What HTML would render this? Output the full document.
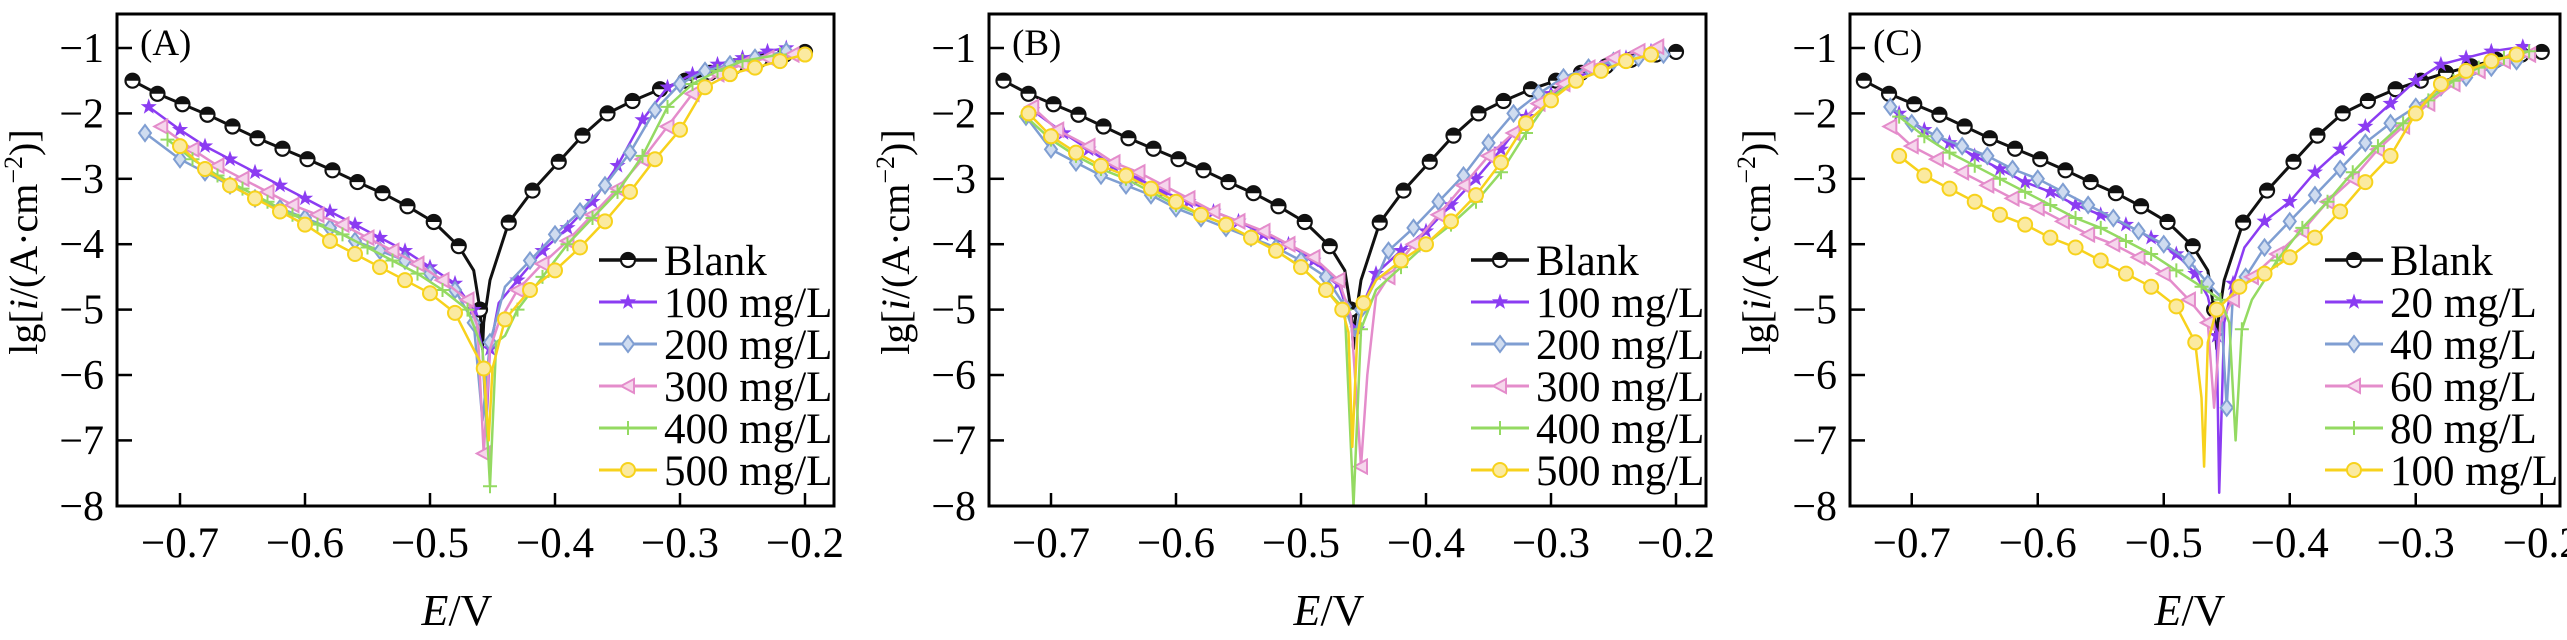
<!DOCTYPE html>
<html><head><meta charset="utf-8">
<style>
html,body{margin:0;padding:0;background:#fff;}
svg{display:block;font-family:"Liberation Serif",serif;}
</style></head>
<body>
<svg id="chart" width="2567" height="640" viewBox="0 0 2567 640" xmlns="http://www.w3.org/2000/svg"></svg>
<script>
// ---- data ----
const xTicks = [-0.7, -0.6, -0.5, -0.4, -0.3, -0.2];
const yTicks = [-1, -2, -3, -4, -5, -6, -7, -8];
const panelLabels = ["(A)", "(B)", "(C)"];
const legendAB = ["Blank", "100 mg/L", "200 mg/L", "300 mg/L", "400 mg/L", "500 mg/L"];
const legendC = ["Blank", "20 mg/L", "40 mg/L", "60 mg/L", "80 mg/L", "100 mg/L"];

const blankE = [-0.738,-0.718,-0.698,-0.678,-0.658,-0.638,-0.618,-0.598,-0.578,-0.558,-0.538,-0.518,-0.497,-0.477,-0.465,-0.46,-0.458,-0.457,-0.452,-0.437,-0.418,-0.397,-0.378,-0.358,-0.338,-0.316,-0.296,-0.276,-0.256,-0.236,-0.216,-0.2];
const blankI = [-1.5,-1.7,-1.86,-2.02,-2.2,-2.38,-2.54,-2.7,-2.87,-3.05,-3.22,-3.42,-3.66,-4.03,-4.4,-5.0,-5.6,-5.2,-4.55,-3.67,-3.18,-2.74,-2.34,-2.0,-1.81,-1.63,-1.5,-1.38,-1.28,-1.18,-1.1,-1.06];

// Panel A
const a100E = [-0.725,-0.70,-0.68,-0.66,-0.64,-0.62,-0.60,-0.58,-0.56,-0.54,-0.52,-0.50,-0.48,-0.465,-0.458,-0.455,-0.452,-0.445,-0.43,-0.41,-0.39,-0.37,-0.35,-0.33,-0.31,-0.29,-0.27,-0.25,-0.23,-0.215];
const a100I = [-1.9,-2.25,-2.5,-2.7,-2.9,-3.1,-3.3,-3.5,-3.7,-3.9,-4.1,-4.35,-4.6,-5.0,-5.6,-6.8,-5.6,-4.9,-4.55,-4.1,-3.75,-3.35,-2.8,-2.1,-1.6,-1.4,-1.25,-1.15,-1.05,-1.0];
const a200E = [-0.728,-0.70,-0.68,-0.66,-0.64,-0.62,-0.60,-0.58,-0.56,-0.54,-0.52,-0.50,-0.48,-0.465,-0.458,-0.452,-0.44,-0.42,-0.40,-0.38,-0.36,-0.34,-0.32,-0.30,-0.28,-0.26,-0.24,-0.215];
const a200I = [-2.3,-2.7,-2.9,-3.1,-3.3,-3.45,-3.6,-3.75,-3.95,-4.1,-4.25,-4.45,-4.7,-5.2,-6.7,-5.5,-4.65,-4.25,-3.85,-3.5,-3.1,-2.6,-1.95,-1.55,-1.35,-1.25,-1.15,-1.05];
const a300E = [-0.715,-0.69,-0.67,-0.65,-0.63,-0.61,-0.59,-0.57,-0.55,-0.53,-0.51,-0.49,-0.47,-0.462,-0.457,-0.452,-0.445,-0.43,-0.41,-0.39,-0.37,-0.35,-0.33,-0.31,-0.29,-0.27,-0.25,-0.23,-0.21];
const a300I = [-2.2,-2.55,-2.8,-3.0,-3.2,-3.4,-3.55,-3.7,-3.9,-4.1,-4.3,-4.55,-4.85,-5.25,-7.2,-5.6,-5.2,-4.7,-4.3,-3.95,-3.55,-3.15,-2.7,-2.2,-1.7,-1.4,-1.25,-1.15,-1.1];
const a400E = [-0.71,-0.69,-0.67,-0.65,-0.63,-0.61,-0.59,-0.57,-0.55,-0.53,-0.51,-0.49,-0.47,-0.458,-0.452,-0.447,-0.44,-0.43,-0.41,-0.39,-0.37,-0.35,-0.33,-0.31,-0.29,-0.27,-0.25,-0.22];
const a400I = [-2.4,-2.7,-2.95,-3.15,-3.35,-3.55,-3.7,-3.85,-4.05,-4.25,-4.45,-4.7,-5.0,-5.6,-7.7,-5.5,-5.4,-5.0,-4.5,-4.0,-3.6,-3.2,-2.65,-1.9,-1.55,-1.35,-1.2,-1.1];
const a500E = [-0.70,-0.68,-0.66,-0.64,-0.62,-0.60,-0.58,-0.56,-0.54,-0.52,-0.50,-0.48,-0.468,-0.457,-0.453,-0.45,-0.44,-0.42,-0.40,-0.38,-0.36,-0.34,-0.32,-0.30,-0.28,-0.26,-0.24,-0.22,-0.20];
const a500I = [-2.5,-2.85,-3.1,-3.3,-3.5,-3.7,-3.95,-4.15,-4.35,-4.55,-4.75,-5.05,-5.5,-5.9,-7.0,-5.9,-5.15,-4.7,-4.4,-4.05,-3.65,-3.2,-2.7,-2.25,-1.6,-1.4,-1.3,-1.2,-1.1];

// Panel B
const b100E = [-0.715,-0.69,-0.67,-0.65,-0.63,-0.61,-0.59,-0.57,-0.55,-0.53,-0.51,-0.49,-0.47,-0.46,-0.455,-0.45,-0.44,-0.42,-0.40,-0.38,-0.36,-0.34,-0.32,-0.30,-0.28,-0.26,-0.24,-0.22];
const b100I = [-1.95,-2.3,-2.55,-2.8,-3.0,-3.2,-3.35,-3.5,-3.65,-3.85,-4.0,-4.25,-4.6,-5.2,-5.3,-4.9,-4.45,-4.1,-3.8,-3.4,-3.0,-2.55,-2.05,-1.7,-1.45,-1.3,-1.15,-1.05];
const b200E = [-0.72,-0.70,-0.68,-0.66,-0.64,-0.62,-0.60,-0.58,-0.56,-0.54,-0.52,-0.50,-0.48,-0.465,-0.457,-0.452,-0.44,-0.43,-0.41,-0.39,-0.37,-0.35,-0.33,-0.31,-0.29,-0.27,-0.25,-0.23,-0.21];
const b200I = [-2.05,-2.55,-2.75,-2.95,-3.1,-3.25,-3.45,-3.6,-3.75,-3.9,-4.05,-4.25,-4.5,-4.95,-5.4,-5.0,-4.55,-4.1,-3.75,-3.35,-2.95,-2.45,-2.0,-1.7,-1.45,-1.3,-1.2,-1.15,-1.1];
const b300E = [-0.715,-0.695,-0.67,-0.65,-0.63,-0.61,-0.59,-0.57,-0.55,-0.53,-0.51,-0.49,-0.47,-0.46,-0.452,-0.447,-0.44,-0.43,-0.41,-0.39,-0.37,-0.35,-0.33,-0.31,-0.29,-0.27,-0.25,-0.23,-0.215];
const b300I = [-1.9,-2.25,-2.5,-2.75,-2.9,-3.1,-3.3,-3.5,-3.65,-3.8,-4.0,-4.2,-4.55,-5.1,-7.4,-6.0,-4.8,-4.5,-4.0,-3.55,-3.1,-2.65,-2.3,-1.85,-1.55,-1.3,-1.15,-1.05,-0.98];
const b400E = [-0.72,-0.70,-0.68,-0.66,-0.64,-0.62,-0.60,-0.58,-0.56,-0.54,-0.52,-0.50,-0.48,-0.465,-0.458,-0.452,-0.44,-0.42,-0.40,-0.38,-0.36,-0.34,-0.32,-0.30,-0.28,-0.26,-0.24,-0.22];
const b400I = [-2.05,-2.4,-2.65,-2.85,-3.0,-3.2,-3.4,-3.55,-3.7,-3.9,-4.1,-4.35,-4.7,-5.0,-8.0,-5.3,-4.7,-4.35,-4.0,-3.7,-3.35,-2.9,-2.3,-1.75,-1.5,-1.35,-1.2,-1.1];
const b500E = [-0.718,-0.70,-0.68,-0.66,-0.64,-0.62,-0.60,-0.58,-0.56,-0.54,-0.52,-0.50,-0.48,-0.467,-0.462,-0.459,-0.455,-0.45,-0.44,-0.42,-0.40,-0.38,-0.36,-0.34,-0.32,-0.30,-0.28,-0.26,-0.24,-0.22];
const b500I = [-2.0,-2.35,-2.6,-2.8,-2.95,-3.15,-3.35,-3.55,-3.7,-3.9,-4.1,-4.35,-4.7,-5.0,-5.35,-7.1,-5.4,-4.9,-4.55,-4.25,-4.0,-3.65,-3.25,-2.75,-2.15,-1.8,-1.5,-1.35,-1.2,-1.1];

// Panel C
const c20E = [-0.71,-0.69,-0.67,-0.65,-0.63,-0.61,-0.59,-0.57,-0.55,-0.53,-0.51,-0.49,-0.475,-0.465,-0.458,-0.456,-0.452,-0.445,-0.436,-0.42,-0.40,-0.38,-0.36,-0.34,-0.32,-0.30,-0.28,-0.26,-0.24,-0.215];
const c20I = [-2.0,-2.25,-2.45,-2.65,-2.85,-3.05,-3.2,-3.4,-3.55,-3.7,-3.9,-4.15,-4.45,-4.8,-5.4,-7.8,-5.2,-4.6,-4.05,-3.65,-3.35,-2.9,-2.55,-2.2,-1.85,-1.5,-1.25,-1.15,-1.05,-0.98];
const c40E = [-0.717,-0.70,-0.68,-0.66,-0.64,-0.62,-0.60,-0.58,-0.56,-0.54,-0.52,-0.50,-0.48,-0.465,-0.455,-0.45,-0.445,-0.435,-0.42,-0.40,-0.38,-0.36,-0.34,-0.32,-0.30,-0.28,-0.26,-0.24,-0.22,-0.21];
const c40I = [-1.9,-2.15,-2.35,-2.5,-2.65,-2.85,-3.0,-3.2,-3.4,-3.6,-3.8,-4.0,-4.25,-4.6,-4.8,-6.5,-4.75,-4.5,-4.05,-3.65,-3.25,-2.85,-2.45,-2.15,-1.9,-1.6,-1.45,-1.3,-1.2,-1.1];
const c60E = [-0.717,-0.70,-0.68,-0.66,-0.64,-0.62,-0.60,-0.58,-0.56,-0.54,-0.52,-0.50,-0.48,-0.465,-0.46,-0.455,-0.445,-0.43,-0.41,-0.39,-0.37,-0.35,-0.33,-0.31,-0.29,-0.27,-0.25,-0.23,-0.21];
const c60I = [-2.2,-2.5,-2.7,-2.9,-3.1,-3.3,-3.45,-3.65,-3.85,-4.0,-4.2,-4.45,-4.85,-5.2,-6.5,-5.2,-4.85,-4.5,-4.15,-3.8,-3.35,-3.0,-2.55,-2.2,-1.85,-1.55,-1.35,-1.2,-1.1];
const c80E = [-0.71,-0.69,-0.67,-0.65,-0.63,-0.61,-0.59,-0.57,-0.55,-0.53,-0.51,-0.49,-0.47,-0.455,-0.448,-0.443,-0.438,-0.43,-0.41,-0.39,-0.37,-0.35,-0.33,-0.31,-0.29,-0.27,-0.25,-0.23,-0.21];
const c80I = [-2.05,-2.35,-2.6,-2.8,-3.0,-3.2,-3.4,-3.6,-3.75,-3.95,-4.15,-4.4,-4.65,-4.85,-5.2,-7.0,-5.3,-4.85,-4.25,-3.75,-3.35,-2.9,-2.5,-2.15,-1.8,-1.5,-1.3,-1.15,-1.05];
const c100E = [-0.71,-0.69,-0.67,-0.65,-0.63,-0.61,-0.59,-0.57,-0.55,-0.53,-0.51,-0.49,-0.475,-0.47,-0.468,-0.465,-0.458,-0.45,-0.44,-0.42,-0.40,-0.38,-0.36,-0.34,-0.32,-0.30,-0.28,-0.26,-0.24,-0.22];
const c100I = [-2.65,-2.95,-3.15,-3.35,-3.55,-3.7,-3.9,-4.05,-4.25,-4.45,-4.65,-4.95,-5.5,-6.35,-7.4,-5.5,-5.0,-4.85,-4.65,-4.45,-4.2,-3.9,-3.5,-3.05,-2.65,-2.0,-1.55,-1.35,-1.2,-1.1];

const colors = ["#111111", "#8b3cf2", "#7f9ed2", "#e48ccb", "#94da62", "#f7d21c"];
const markers = ["blank", "star", "diamond", "tri", "plus", "circle"];

// ---- drawing ----
const NS = "http://www.w3.org/2000/svg";
const svg = document.getElementById("chart");
function mk(tag, attrs, parent) {
  const e = document.createElementNS(NS, tag);
  for (const k in attrs) e.setAttribute(k, attrs[k]);
  (parent || svg).appendChild(e);
  return e;
}
const Y0 = -0.48, YS = 65.4, TOP = 14, H = 492;

function drawMarker(g, type, x, y, col) {
  let m;
  if (type === "blank") {
    m = mk("g", {}, g);
    mk("circle", {cx: x, cy: y, r: 7, fill: "#fff", stroke: col, "stroke-width": 2.2}, m);
    mk("path", {d: `M${x-7},${y} A7,7 0 0 1 ${x+7},${y} Z`, fill: col}, m);
  } else if (type === "star") {
    let d = "";
    for (let k = 0; k < 10; k++) {
      const r = k % 2 ? 3.4 : 8.5, a = -Math.PI / 2 + k * Math.PI / 5;
      d += (k ? "L" : "M") + (x + r * Math.cos(a)).toFixed(1) + "," + (y + r * Math.sin(a)).toFixed(1);
    }
    m = mk("path", {d: d + "Z", fill: col}, g);
  } else if (type === "diamond") {
    m = mk("path", {d: `M${x},${y-8}L${x+6},${y}L${x},${y+8}L${x-6},${y}Z`, fill: "#cfdcf0", stroke: col, "stroke-width": 2}, g);
  } else if (type === "tri") {
    m = mk("path", {d: `M${x-7},${y}L${x+6},${y-7}L${x+6},${y+7}Z`, fill: "#f6d6ec", stroke: col, "stroke-width": 2}, g);
  } else if (type === "plus") {
    m = mk("path", {d: `M${x-7},${y}H${x+7}M${x},${y-7}V${y+7}`, stroke: col, "stroke-width": 2, fill: "none"}, g);
  } else {
    m = mk("circle", {cx: x, cy: y, r: 7, fill: "#fbeaa0", stroke: col, "stroke-width": 2}, g);
  }
  
  
}

function drawPanel(p, left, W, X0, XS, series, legend) {
  const g = mk("g", {});
  
  
  const sx = e => left + (e - X0) * XS;
  const sy = v => TOP + (Y0 - v) * YS;
  const clipId = "clip" + p;
  const cp = mk("clipPath", {id: clipId}, g);
  mk("rect", {x: left, y: TOP, width: W, height: H}, cp);
  series.forEach((s, i) => {
    const sg = mk("g", {"clip-path": `url(#${clipId})`}, g);
    
    
    const d = s[0].map((e, k) => (k ? "L" : "M") + sx(e).toFixed(1) + "," + sy(s[1][k]).toFixed(1)).join("");
    mk("path", {d: d, fill: "none", stroke: colors[i], "stroke-width": i === 0 ? 3 : 2.5, "stroke-linejoin": "round"}, sg);
    let lastX = -1e9;
    s[0].forEach((e, k) => {
      const x = sx(e);
      if (Math.abs(x - lastX) < 16) return;
      lastX = x;
      drawMarker(sg, markers[i], x, sy(s[1][k]), colors[i]);
    });
  });
  const fr = mk("rect", {x: left, y: TOP, width: W, height: H, fill: "none", stroke: "#000", "stroke-width": 3}, g);
  
  
  xTicks.forEach(t => {
    const x = sx(t);
    mk("line", {x1: x, x2: x, y1: TOP + H, y2: TOP + H - 13, stroke: "#000", "stroke-width": 2.5}, g);
    const tx = mk("text", {x: x, y: 557, "font-size": 43, "text-anchor": "middle"}, g);
    tx.textContent = "\u2212" + t.toFixed(1).replace("-", "");
    
    
  });
  yTicks.forEach(t => {
    const y = sy(t);
    mk("line", {x1: left, x2: left + 15, y1: y, y2: y, stroke: "#000", "stroke-width": 2.5}, g);
    const ty = mk("text", {x: left - 13, y: y + 14, "font-size": 42, "text-anchor": "end"}, g);
    ty.textContent = "\u2212" + Math.abs(t);
    
    
  });
  const pl = mk("text", {x: left + 23, y: 55, "font-size": 37}, g);
  pl.textContent = panelLabels[p];
  
  
  const xt = mk("text", {x: left + 340, y: 625, "font-size": 44, "text-anchor": "middle"}, g);
  xt.innerHTML = '<tspan font-style="italic">E</tspan>/V';
  
  
  const yt = mk("text", {x: 0, y: 0, "font-size": 40, "text-anchor": "middle", transform: `translate(${left - 80},242) rotate(-90)`}, g);
  yt.innerHTML = 'lg[<tspan font-style="italic">i</tspan>/(A·cm<tspan dy="-15" font-size="26">−2</tspan><tspan dy="15">)]</tspan>';
  
  
  const lx = left + W - 235;
  legend.forEach((name, i) => {
    const ly = 260 + i * 42;
    const lg = mk("g", {}, g);
    
    
    mk("line", {x1: lx, x2: lx + 58, y1: ly, y2: ly, stroke: colors[i], "stroke-width": i === 0 ? 3.5 : 3}, lg);
    drawMarker(lg, markers[i], lx + 29, ly, colors[i]);
    const lt = mk("text", {x: lx + 65, y: ly + 15, "font-size": 43}, lg);
    lt.textContent = name;
  });
}

drawPanel(0, 117, 717, -0.7504, 1250, [[blankE, blankI], [a100E, a100I], [a200E, a200I], [a300E, a300I], [a400E, a400I], [a500E, a500I]], legendAB);
drawPanel(1, 989, 717, -0.7496, 1250, [[blankE, blankI], [b100E, b100I], [b200E, b200I], [b300E, b300I], [b400E, b400I], [b500E, b500I]], legendAB);
drawPanel(2, 1850, 710, -0.749, 1260, [[blankE, blankI], [c20E, c20I], [c40E, c40I], [c60E, c60I], [c80E, c80I], [c100E, c100I]], legendC);
</script>
</body></html>
